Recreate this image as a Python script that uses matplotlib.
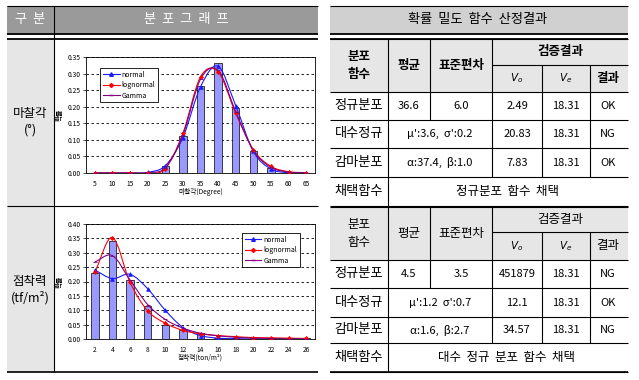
import numpy as np
import matplotlib
matplotlib.use('Agg')
import matplotlib.pyplot as plt
from matplotlib.patches import Rectangle, PathPatch
from matplotlib.path import Path
from matplotlib.lines import Line2D

plt.rcParams['font.family'] = ['Noto Sans CJK KR', 'DejaVu Sans']

# ---- chart data ----
cat1 = [5, 10, 15, 20, 25, 30, 35, 40, 45, 50, 55, 60, 65]
bars1 = [0, 0, 0, 0, 0.02, 0.113, 0.262, 0.332, 0.195, 0.067, 0.016, 0.003, 0]
normal1 = [0, 0, 0, 0.002, 0.022, 0.107, 0.26, 0.322, 0.203, 0.065, 0.012, 0.001, 0]
logn1 = [0, 0, 0, 0, 0.013, 0.12, 0.29, 0.305, 0.18, 0.07, 0.02, 0.004, 0.001]
gamma1 = [0, 0, 0, 0.001, 0.016, 0.115, 0.283, 0.31, 0.185, 0.068, 0.017, 0.003, 0.001]

cat2 = [2, 4, 6, 8, 10, 12, 14, 16, 18, 20, 22, 24, 26]
bars2 = [0.23, 0.34, 0.205, 0.115, 0.048, 0.03, 0.022, 0.004, 0.003, 0.007, 0.002, 0.002, 0.004]
normal2 = [0.24, 0.21, 0.225, 0.175, 0.1, 0.04, 0.012, 0.003, 0.001, 0, 0, 0, 0]
logn2 = [0.232, 0.353, 0.197, 0.098, 0.055, 0.03, 0.018, 0.012, 0.008, 0.005, 0.004, 0.003, 0.002]
gamma2 = [0.268, 0.29, 0.205, 0.12, 0.068, 0.038, 0.02, 0.011, 0.006, 0.003, 0.002, 0.001, 0.0005]

series_names = ['normal', 'lognormal', 'Gamma']

# ---- table data ----
dist_names = ['정규분포', '대수정규', '감마분포']
t1_mean_sd = ['36.6', '6.0']
t1_params = ['μ\':3.6,  σ\':0.2', 'α:37.4,  β:1.0']
t1_vo = ['2.49', '20.83', '7.83']
t1_ve = ['18.31', '18.31', '18.31']
t1_res = ['OK', 'NG', 'OK']
t1_pick = '정규분포  함수  채택'

t2_mean_sd = ['4.5', '3.5']
t2_params = ['μ\':1.2  σ\':0.7', 'α:1.6,  β:2.7']
t2_vo = ['451879', '12.1', '34.57']
t2_ve = ['18.31', '18.31', '18.31']
t2_res = ['NG', 'OK', 'NG']
t2_pick = '대수  정규  분포  함수  채택'

fig = plt.figure(figsize=(6.39, 3.80), dpi=100)
ax0 = fig.add_axes([0, 0, 1, 1])
ax0.set_xlim(0, 639)
ax0.set_ylim(380, 0)
ax0.axis('off')


def rect(x0, y0, x1, y1, c):
    ax0.add_patch(Rectangle((x0, y0), x1 - x0, y1 - y0, facecolor=c, edgecolor='none', zorder=0))


def hl(y, x0, x1, lw=0.8):
    ax0.plot([x0, x1], [y, y], color='black', lw=lw, solid_capstyle='butt', zorder=2)


def vl(x, y0, y1, lw=0.8):
    ax0.plot([x, x], [y0, y1], color='black', lw=lw, solid_capstyle='butt', zorder=2)


def txt(x, y, s, size=9, **kw):
    ax0.text(x, y, s, ha='center', va='center', fontsize=size, zorder=3, **kw)


# ---- left table ----
rect(7, 6, 318, 34, '#9a9a9a')
rect(7, 39, 54, 372, '#e6e6e6')
hl(6, 7, 318)
hl(34, 7, 318, 1.3)
hl(38.5, 7, 318, 1.3)
hl(206, 7, 318)
hl(372, 7, 318, 1.2)
vl(54, 6, 372)
txt(30, 20, '구  분', 9.5, color='white')
txt(186, 20, '분  포  그  래  프', 9.5, color='white')
txt(30, 122, '마찰각\n(°)', 9, linespacing=1.3)
txt(30, 290, '점착력\n(tf/m²)', 9, linespacing=1.3)

# ---- right table ----
X0, X1 = 330, 628
cx = [388, 430, 492, 542, 590]
rect(X0, 6, X1, 34, '#d0d0d0')
hl(6, X0, X1)
hl(34, X0, X1, 1.3)
hl(38.5, X0, X1, 1.3)
txt(478, 20, '확률  밀도  함수  산정결과', 9.5)


def subtable(top, mid, hbot, rows, mean_sd, params, vo, ve, res, pick, bold):
    w = 'bold' if bold else 'normal'
    rect(X0, top, X1, hbot, '#e6e6e6')
    hl(top, X0, X1)
    hl(mid, cx[2], X1)
    hl(hbot, X0, X1)
    for i in range(1, len(rows)):
        hl(rows[i], X0, X1)
    vl(cx[0], top, rows[-1])
    vl(cx[1], top, hbot)
    vl(cx[1], hbot, rows[1])
    vl(cx[2], top, rows[-2])
    vl(cx[3], mid, rows[-2])
    vl(cx[4], mid, rows[-2])
    hc = (top + hbot) / 2
    txt(359, hc, '분포\n함수', 9, weight=w, linespacing=1.5)
    txt(409, hc, '평균', 9, weight=w)
    txt(461, hc, '표준편차', 9, weight=w)
    txt(560, (top + mid) / 2, '검증결과', 9, weight=w)
    txt(517, (mid + hbot) / 2, '$V_o$', 7.5)
    txt(566, (mid + hbot) / 2, '$V_e$', 7.5)
    txt(608, (mid + hbot) / 2, '결과', 9, weight=w)
    for i in range(3):
        yc = (rows[i] + rows[i + 1]) / 2
        txt(359, yc, dist_names[i], 9.5)
        if i == 0:
            txt(409, yc, mean_sd[0], 8)
            txt(461, yc, mean_sd[1], 8)
        else:
            txt(440, yc, params[i - 1], 8)
        txt(517, yc, vo[i], 8)
        txt(566, yc, ve[i], 8)
        txt(608, yc, res[i], 8)
    yc = (rows[3] + rows[4]) / 2
    txt(359, yc, '채택함수', 9.5)
    txt(507, yc, pick, 9)


subtable(38.5, 65, 92, [92, 120, 148, 177, 206], t1_mean_sd, t1_params,
         t1_vo, t1_ve, t1_res, t1_pick, True)
subtable(207, 232, 260, [260, 288, 317, 343, 372], t2_mean_sd, t2_params,
         t2_vo, t2_ve, t2_res, t2_pick, False)
hl(372, X0, X1, 1.2)

# ---- charts ----
colors = ['#1a1aff', '#ff0000', '#800080']
markers = ['^', 'D', '_']
msizes = [2.6, 2.0, 3.0]


def smooth(ax, y, color):
    x = np.arange(len(y), dtype=float)
    y = np.asarray(y, dtype=float)
    m = np.gradient(y)
    verts = [(x[0], y[0])]
    codes = [Path.MOVETO]
    for i in range(len(x) - 1):
        verts += [(x[i] + 1 / 3, y[i] + m[i] / 3),
                  (x[i + 1] - 1 / 3, y[i + 1] - m[i + 1] / 3),
                  (x[i + 1], y[i + 1])]
        codes += [Path.CURVE4] * 3
    ax.add_patch(PathPatch(Path(verts, codes), fill=False, edgecolor=color,
                           lw=0.8, zorder=3))


def chart(rect_, cats, bars, series, ymax, xlabel, leg_loc, leg_anchor):
    ax = fig.add_axes(rect_)
    pos = np.arange(len(cats))
    ax.bar(pos, bars, width=0.42, color='#9999ff', edgecolor='black', lw=0.5, zorder=2)
    for s, c, mk, ms in zip(series, colors, markers, msizes):
        smooth(ax, s, c)
        ax.plot(pos, s, linestyle='none', marker=mk, color=c, ms=ms, mew=0.6, zorder=4)
    ax.set_xlim(-0.5, len(cats) - 0.5)
    ax.set_ylim(0, ymax)
    ax.set_yticks(np.arange(0, ymax + 0.001, 0.05))
    ax.set_yticklabels(['%.2f' % v for v in np.arange(0, ymax + 0.001, 0.05)])
    ax.set_xticks(pos)
    ax.set_xticklabels([str(c) for c in cats])
    ax.tick_params(axis='x', length=0, labelsize=4.8, pad=5)
    ax.tick_params(axis='y', length=2, width=0.5, labelsize=4.8, pad=2)
    ax.yaxis.grid(True, color='black', linestyle=(0, (3, 3)), lw=0.6)
    ax.set_axisbelow(True)
    for sp in ax.spines.values():
        sp.set_linewidth(0.6)
    ax.set_xlabel(xlabel, fontsize=4.8, labelpad=0)
    ax.set_ylabel('확률', fontsize=4.8, labelpad=3, weight='bold')
    handles = [Line2D([], [], color=c, marker=mk, ms=ms, lw=0.8)
               for c, mk, ms in zip(colors, markers, msizes)]
    leg = ax.legend(handles, series_names, loc=leg_loc, bbox_to_anchor=leg_anchor,
                    fontsize=5, frameon=True, fancybox=False, framealpha=1,
                    edgecolor='black', handlelength=2.4, borderpad=0.35,
                    labelspacing=0.35, handletextpad=0.3)
    leg.get_frame().set_linewidth(0.6)
    return ax


chart([86 / 639, 1 - 173 / 380, 229 / 639, 116 / 380], cat1, bars1,
      [normal1, logn1, gamma1], 0.35, '마찰각(Degree)', 'upper left', (0.048, 0.931))
chart([86 / 639, 1 - 339 / 380, 229 / 639, 115 / 380], cat2, bars2,
      [normal2, logn2, gamma2], 0.40, '점착력(ton/m²)', 'upper right', (0.948, 0.948))

fig.savefig('out.png', dpi=100)
